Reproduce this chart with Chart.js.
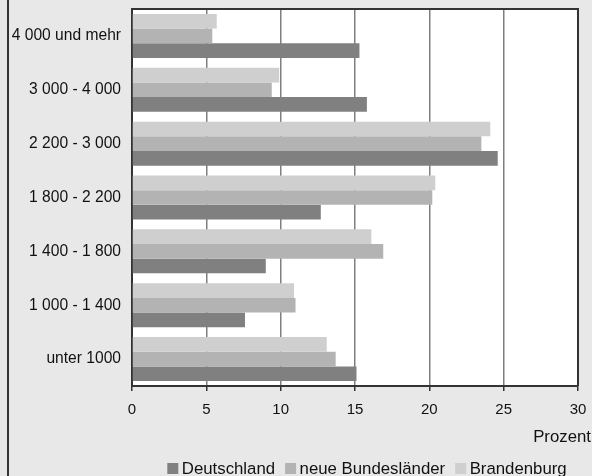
<!DOCTYPE html>
<html lang="de">
<head>
<meta charset="utf-8">
<title>Haushaltsnettoeinkommen</title>
<script src="https://cdn.jsdelivr.net/npm/chart.js@4/dist/chart.umd.min.js"></script>
<style>
  html, body { margin: 0; padding: 0; background: #e8e8e8; }
  #wrap { width: 592px; height: 476px; position: relative; }
</style>
</head>
<body>
<div id="wrap"><canvas id="c" width="592" height="476"></canvas></div>
<script>
// Einkommensklassen (Euro), von oben nach unten
const categories = ['4 000 und mehr', '3 000 - 4 000', '2 200 - 3 000', '1 800 - 2 200', '1 400 - 1 800', '1 000 - 1 400', 'unter 1000'];

// Anteile in Prozent
const brandenburg = [5.7, 9.9, 24.1, 20.4, 16.1, 10.9, 13.1];
const neueBundeslaender = [5.4, 9.4, 23.5, 20.2, 16.9, 11.0, 13.7];
const deutschland = [15.3, 15.8, 24.6, 12.7, 9.0, 7.6, 15.1];

const xTicks = [0, 5, 10, 15, 20, 25, 30];
const seriesNames = ['Deutschland', 'neue Bundesländer', 'Brandenburg'];
const axisTitle = 'Prozent';

const colors = { 'Deutschland': '#808080', 'neue Bundesländer': '#b3b3b3', 'Brandenburg': '#cfcfcf' };
const FONT = "'Liberation Sans', Arial, sans-serif";

// Hintergrund, Rahmen, Achsentitel und Legende
const framePlugin = {
  id: 'frame',
  beforeDraw(chart) {
    const { ctx, chartArea: a, width, height } = chart;
    ctx.save();
    ctx.fillStyle = '#e8e8e8';
    ctx.fillRect(0, 0, width, height);
    ctx.fillStyle = '#ffffff';
    ctx.fillRect(a.left, a.top, a.right - a.left, a.bottom - a.top);
    ctx.fillStyle = '#333333';
    ctx.fillRect(7, 0, 2, height);
    ctx.restore();
  },
  afterDraw(chart) {
    const { ctx, chartArea: a } = chart;
    ctx.save();
    ctx.strokeStyle = '#333333';
    ctx.lineWidth = 2;
    ctx.beginPath();
    ctx.moveTo(a.left, a.top);
    ctx.lineTo(a.right, a.top);
    ctx.lineTo(a.right, a.bottom);
    ctx.stroke();

    // Achsentitel
    ctx.fillStyle = '#111111';
    ctx.font = '16.8px ' + FONT;
    ctx.textAlign = 'right';
    ctx.textBaseline = 'alphabetic';
    ctx.fillText(axisTitle, 591, 442);

    // Legende
    const box = 11, gapText = 3.5, gapItem = 10;
    const items = seriesNames.map(n => ({ name: n, w: ctx.measureText(n).width }));
    const total = items.reduce((s, it) => s + box + gapText + it.w, 0) + gapItem * (items.length - 1);
    let x = 367 - total / 2;
    const baseY = 474;
    ctx.textAlign = 'left';
    items.forEach(it => {
      const ds = chart.data.datasets.find(d => d.label === it.name);
      ctx.fillStyle = ds.backgroundColor;
      ctx.fillRect(x, baseY - 11, box, box);
      x += box + gapText;
      ctx.fillStyle = '#111111';
      ctx.fillText(it.name, x, baseY);
      x += it.w + gapItem;
    });
    ctx.restore();
  }
};

new Chart(document.getElementById('c'), {
  type: 'bar',
  data: {
    labels: categories,
    datasets: [
      { label: 'Brandenburg', data: brandenburg, backgroundColor: colors['Brandenburg'] },
      { label: 'neue Bundesländer', data: neueBundeslaender, backgroundColor: colors['neue Bundesländer'] },
      { label: 'Deutschland', data: deutschland, backgroundColor: colors['Deutschland'] }
    ]
  },
  options: {
    indexAxis: 'y',
    responsive: false,
    animation: false,
    devicePixelRatio: 1,
    datasets: { bar: { categoryPercentage: 0.817, barPercentage: 1.0, borderWidth: 0 } },
    layout: { padding: { top: 9, right: 14, left: 0, bottom: 0 } },
    plugins: { legend: { display: false }, tooltip: { enabled: false } },
    scales: {
      x: {
        min: 0, max: 30,
        afterBuildTicks(scale) { scale.ticks = xTicks.map(v => ({ value: v })); },
        afterFit(scale) { scale.height = 90; scale.paddingLeft = 0; scale.paddingRight = 0; },
        grid: { color: '#7f7f7f', lineWidth: 1.5, tickColor: '#333333', tickLength: 5, drawTicks: true },
        border: { display: true, color: '#333333', width: 2 },
        ticks: { color: '#111111', font: { family: FONT, size: 15 }, padding: 10, maxRotation: 0 }
      },
      y: {
        afterFit(scale) { scale.width = 132; scale.paddingTop = 0; scale.paddingBottom = 0; },
        grid: { display: false, drawTicks: false },
        border: { display: true, color: '#333333', width: 2 },
        ticks: { color: '#111111', font: { family: FONT, size: 15.6 }, padding: 11 }
      }
    }
  },
  plugins: [framePlugin]
});
</script>
</body>
</html>
